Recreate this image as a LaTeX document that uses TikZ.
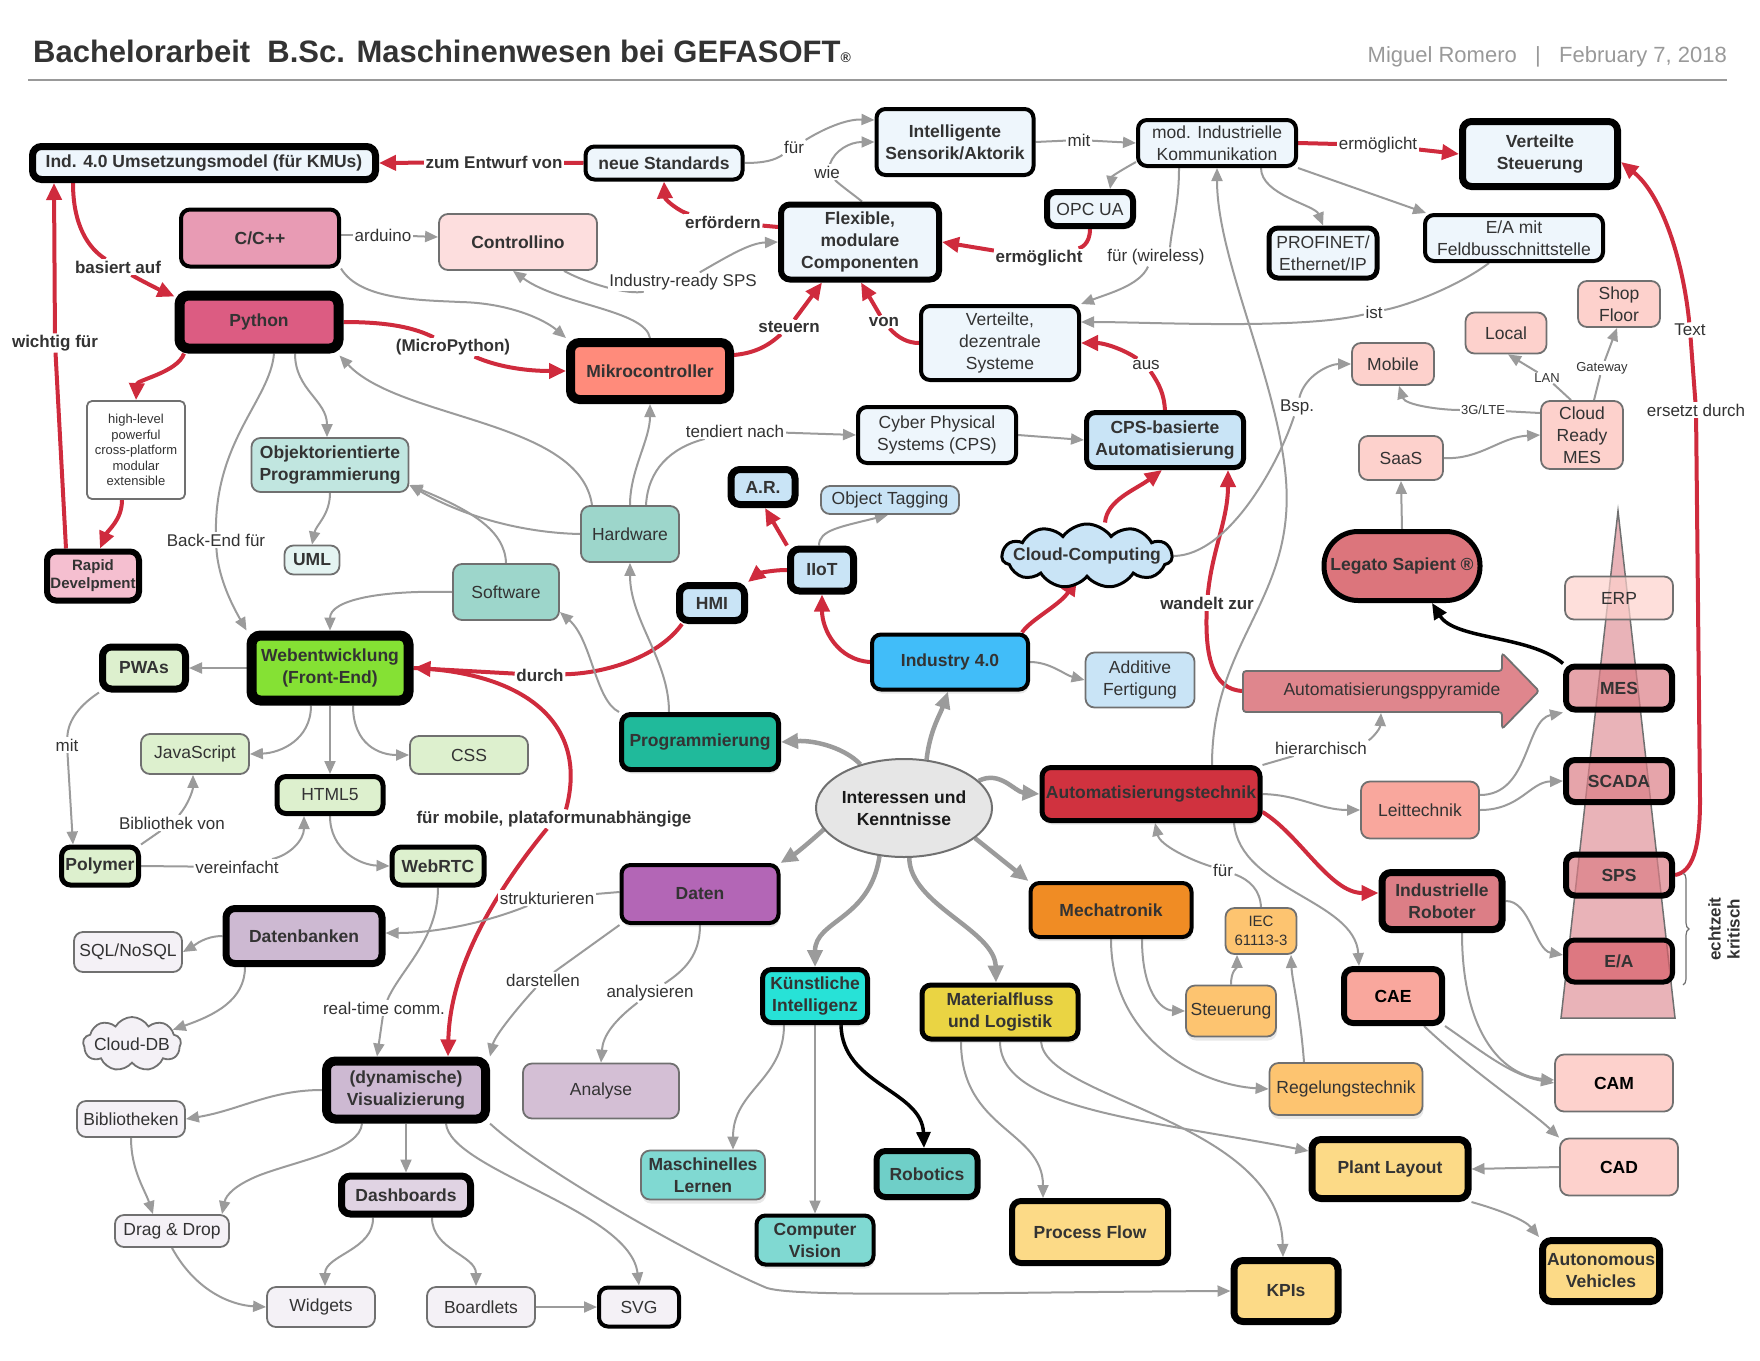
\documentclass[tikz,border=0pt]{standalone}
\usepackage{fontspec}
\setmainfont{Liberation Sans}
\usetikzlibrary{arrows.meta,shapes.symbols,shapes.geometric,shadows,decorations.pathreplacing,calc}
\pgfdeclarelayer{bg}
\pgfsetlayers{bg,main}
\definecolor{txt}{HTML}{333333}
\definecolor{authc}{HTML}{999999}
\definecolor{bordgray}{HTML}{707070}
\definecolor{edgegray}{HTML}{9B9B9B}
\definecolor{edgered}{HTML}{CF2B3D}
\definecolor{lbz}{HTML}{EEF6FC}
\definecolor{lbo}{HTML}{C9E4F6}
\definecolor{indc}{HTML}{41BDF9}
\definecolor{pkc}{HTML}{E89BB4}
\definecolor{pyc}{HTML}{DC5C82}
\definecolor{rapc}{HTML}{F5BFD0}
\definecolor{ctlc}{HTML}{FDDEDE}
\definecolor{mikc}{HTML}{FF8B7B}
\definecolor{oopc}{HTML}{C1E6E0}
\definecolor{umlc}{HTML}{E4F4F2}
\definecolor{swc}{HTML}{9DD6CB}
\definecolor{progc}{HTML}{20BA9B}
\definecolor{webc}{HTML}{85E134}
\definecolor{lgc}{HTML}{DDF0CE}
\definecolor{datc}{HTML}{B366B6}
\definecolor{dbc}{HTML}{CDB9D2}
\definecolor{anc}{HTML}{D4BFD5}
\definecolor{dashc}{HTML}{E0D3E3}
\definecolor{lpur}{HTML}{F4F1F6}
\definecolor{kic}{HTML}{27E2D7}
\definecolor{mlc}{HTML}{80D9D2}
\definecolor{robc}{HTML}{6FCFC8}
\definecolor{mfc}{HTML}{EAD443}
\definecolor{yelc}{HTML}{FCDA87}
\definecolor{mechc}{HTML}{F08C24}
\definecolor{orlc}{HTML}{FDC470}
\definecolor{atc}{HTML}{D0323F}
\definecolor{leitc}{HTML}{F9A79D}
\definecolor{lpink}{HTML}{FDD1CC}
\definecolor{legc}{HTML}{DC757C}
\definecolor{mesc}{HTML}{DC7E86}
\definecolor{eac}{HTML}{D8606A}
\definecolor{pyrc}{HTML}{E9B3B8}
\definecolor{pyarc}{HTML}{DF868D}
\definecolor{intc}{HTML}{E6E6E6}
\newcommand\myfn{\fontsize{17.5}{22}\selectfont}
\newcommand\myfb{\fontsize{17.5}{22}\selectfont\bfseries}
\newcommand\myfl{\fontsize{17}{20}\selectfont}
\newcommand\myfs{\fontsize{13}{15.5}\selectfont}
\tikzset{
  box/.style={rectangle, rounded corners=9pt, align=center, text=txt, inner sep=0pt, font=\myfn},
  bf/.style={font=\myfb},
  thin/.style={draw=bordgray, line width=1.8pt},
  bk/.style={draw=black, line width=#1},
  shd/.style={drop shadow={opacity=0.18, shadow xshift=1pt, shadow yshift=-4pt}},
  lbl/.style={fill=white, inner sep=1.5pt, text=txt, font=\myfl},
  lblb/.style={fill=white, inner sep=1.5pt, text=txt, font=\myfl\bfseries},
  lbls/.style={fill=white, inner sep=1pt, text=txt, font=\myfs},
  ga/.style={draw=edgegray, line width=2pt, -{Triangle[length=13pt,width=11pt]}},
  gl/.style={draw=edgegray, line width=2pt},
  ra/.style={draw=edgered, line width=4pt, -{Triangle[length=17pt,width=15pt]}},
  rl/.style={draw=edgered, line width=4pt},
  ba/.style={draw=black, line width=3.5pt, -{Triangle[length=16pt,width=14pt]}},
  ta/.style={draw=edgegray, line width=4.5pt, -{Triangle[length=17pt,width=15pt]}},
  pyrbox/.style={fill opacity=0.7, text opacity=1, draw opacity=1}
}
\begin{document}
\begin{tikzpicture}[x=1pt,y=-1pt]
\useasboundingbox (0,0) rectangle (1760,1360);
% header
\node[anchor=base west, inner sep=0pt, font=\fontsize{31}{37}\selectfont\bfseries, text=txt] (title) at (33,62) {Bachelorarbeit\ \ B.Sc. Maschinenwesen bei GEFASOFT{\fontsize{14}{14}\selectfont ®}};
\node[anchor=base east, inner sep=0pt, font=\fontsize{22}{26}\selectfont, text=authc] (author) at (1727,62) {Miguel Romero\ \ \ |\ \ \ February 7, 2018};
\draw[authc, line width=2pt] (28,80) -- (1727,80);

% nodes
\node[box,bf,bk=7pt,fill=lbz,minimum width=343pt,minimum height=33pt] (ind40) at (204,163) {Ind. 4.0 Umsetzungsmodel (für KMUs)};
\node[box,bf,bk=4pt,fill=pkc,minimum width=158pt,minimum height=57pt] (cpp) at (260,238) {C/C++};
\node[box,bf,thin,fill=ctlc,minimum width=158pt,minimum height=56pt] (controllino) at (518,242) {Controllino};
\node[box,bf,bk=10pt,fill=pyc,minimum width=159pt,minimum height=53pt] (python) at (259,322) {Python};
\node[box,thin,fill=white,rounded corners=5pt,font=\myfs,minimum width=98pt,minimum height=98pt] (hilevel) at (136,450) {high-level\\powerful\\cross-platform\\modular\\extensible};
\node[box,bk=6pt,fill=rapc,font=\fontsize{15}{18}\selectfont\bfseries,minimum width=92pt,minimum height=49pt] (rapid) at (93,576) {Rapid\\Develpment};
\node[box,bf,bk=9pt,fill=mikc,minimum width=159pt,minimum height=57pt] (mikro) at (650,371) {Mikrocontroller};
\node[box,bf,bk=4pt,fill=lbz,minimum width=157pt,minimum height=33pt] (neuestd) at (664,163) {neue Standards};
\node[box,bf,bk=4pt,fill=lbz,minimum width=157pt,minimum height=66pt] (intel) at (955,142) {Intelligente\\Sensorik/Aktorik};
\node[box,bk=4pt,fill=lbz,minimum width=158pt,minimum height=46pt] (mik) at (1217,143) {mod. Industrielle\\Kommunikation};
\node[box,bk=6pt,fill=lbz,minimum width=86pt,minimum height=34pt] (opcua) at (1090,209) {OPC UA};
\node[box,bf,bk=6pt,fill=lbz,minimum width=158pt,minimum height=75pt] (flex) at (860,242) {Flexible,\\modulare\\Componenten};
\node[box,bk=4pt,fill=lbz,minimum width=158pt,minimum height=74pt] (vds) at (1000,343) {Verteilte,\\dezentrale\\Systeme};
\node[box,bk=4pt,fill=lbz,minimum width=158pt,minimum height=56pt] (cps) at (937,435) {Cyber Physical\\Systems (CPS)};
\node[box,bf,bk=5pt,fill=lbo,minimum width=157pt,minimum height=55pt] (cpsaut) at (1165,440) {CPS-basierte\\Automatisierung};
\node[box,bf,bk=7pt,fill=lbz,minimum width=155pt,minimum height=65pt] (vst) at (1540,154) {Verteilte\\Steuerung};
\node[box,bk=5pt,fill=lbz,minimum width=108pt,minimum height=50pt] (profinet) at (1323,253) {PROFINET/\\Ethernet/IP};
\node[box,bk=4pt,fill=lbz,minimum width=178pt,minimum height=46pt] (eamit) at (1514,238) {E/A mit\\Feldbusschnittstelle};
\node[box,thin,fill=lpink,minimum width=82pt,minimum height=46pt] (shopfloor) at (1619,304) {Shop\\Floor};
\node[box,thin,fill=lpink,minimum width=81pt,minimum height=41pt] (local) at (1506,333) {Local};
\node[box,thin,fill=lpink,minimum width=82pt,minimum height=42pt] (mobile) at (1393,364) {Mobile};
\node[box,thin,fill=lpink,minimum width=82pt,minimum height=68pt] (crmes) at (1582,435) {Cloud\\Ready\\MES};
\node[box,thin,fill=lpink,minimum width=84pt,minimum height=44pt] (saas) at (1401,458) {SaaS};
\node[box,bf,bk=5pt,fill=legc,rounded corners=34pt,minimum width=156pt,minimum height=69pt] (legato) at (1402,566) {Legato Sapient ®};

% pyramid (background)
\begin{pgfonlayer}{bg}
\draw[draw=bordgray, line width=1.5pt, fill=pyrc] (1618,511) -- (1675,1018) -- (1561,1018) -- cycle;
\end{pgfonlayer}
\node[box,thin,pyrbox,fill=lpink,minimum width=108pt,minimum height=43pt] (erp) at (1619,598) {ERP};
\node[box,bf,bk=6pt,pyrbox,fill=mesc,minimum width=106pt,minimum height=43pt] (mes) at (1619,688) {MES};
\node[box,bf,bk=6pt,pyrbox,fill=mesc,minimum width=106pt,minimum height=42pt] (scada) at (1619,781) {SCADA};
\node[box,bf,bk=6pt,pyrbox,fill=mesc,minimum width=106pt,minimum height=41pt] (sps) at (1619,875) {SPS};
\node[box,bf,bk=5pt,pyrbox,fill=eac,minimum width=107pt,minimum height=42pt] (ea) at (1619,961) {E/A};
\draw[decorate, decoration={brace, amplitude=6pt}, draw=bordgray, line width=1.2pt] (1683,873) -- (1683,985);
\node[rotate=90, align=center, inner sep=0pt, font=\fontsize{17}{19}\selectfont\bfseries, text=txt] (echt) at (1724,929) {echtzeit\\kritisch};

\node[box,bf,thin,fill=oopc,minimum width=157pt,minimum height=54pt] (oop) at (330,465) {Objektorientierte\\Programmierung};
\node[box,bf,thin,fill=umlc,minimum width=55pt,minimum height=29pt] (uml) at (312,560) {UML};
\node[box,thin,fill=swc,minimum width=106pt,minimum height=56pt] (software) at (506,592) {Software};
\node[box,thin,fill=swc,minimum width=98pt,minimum height=56pt] (hardware) at (630,534) {Hardware};
\node[box,bf,bk=10pt,fill=webc,minimum width=157pt,minimum height=65pt] (web) at (330,668) {Webentwicklung\\(Front-End)};
\node[box,bf,bk=7pt,fill=lgc,minimum width=83pt,minimum height=42pt] (pwas) at (144,668) {PWAs};
\node[box,thin,fill=lgc,minimum width=108pt,minimum height=40pt] (js) at (195,754) {JavaScript};
\node[box,thin,fill=lgc,minimum width=118pt,minimum height=38pt] (css) at (469,755) {CSS};
\node[box,bk=5pt,fill=lgc,minimum width=106pt,minimum height=37pt] (html) at (330,795) {HTML5};
\node[box,bf,bk=5pt,fill=lgc,minimum width=77pt,minimum height=38pt] (polymer) at (100,866) {Polymer};
\node[box,bf,bk=5pt,fill=lgc,minimum width=92pt,minimum height=38pt] (webrtc) at (438,866) {WebRTC};

\node[box,bf,bk=7pt,fill=lbo,minimum width=64pt,minimum height=35pt] (ar) at (763,487) {A.R.};
\node[box,thin,fill=lbo,minimum width=138pt,minimum height=28pt] (objtag) at (890,500) {Object Tagging};
\node[box,bf,bk=7pt,fill=lbo,minimum width=63pt,minimum height=42pt] (iiot) at (822,570) {IIoT};
\node[box,bf,bk=7pt,fill=lbo,minimum width=65pt,minimum height=35pt] (hmi) at (712,603) {HMI};
\node[cloud, cloud puffs=11, cloud puff arc=110, aspect=2.6, draw=black, line width=3pt, fill=lbo, minimum width=170pt, minimum height=64pt, inner sep=0pt, label={[font=\myfb, text=txt, inner sep=0pt]center:Cloud-Computing}] (cloud) at (1087,556) {};
\node[box,bf,bk=4pt,fill=indc,shd,minimum width=156pt,minimum height=55pt] (ind) at (950,662) {Industry 4.0};
\node[box,thin,fill=lbo,minimum width=109pt,minimum height=55pt] (additive) at (1140,680) {Additive\\Fertigung};
\node[box,bf,bk=5pt,fill=progc,shd,minimum width=157pt,minimum height=55pt] (prog) at (700,742) {Programmierung};
\node[ellipse, draw=bordgray, line width=2pt, fill=intc, minimum width=159pt, minimum height=98pt, inner sep=0pt, align=center, font=\myfb, text=black!90] (inter) at (904,808) {Interessen und\\Kenntnisse};
\node[box,bf,bk=5pt,fill=atc,shd,minimum width=218pt,minimum height=53pt] (at) at (1151,794) {Automatisierungstechnik};
\node[box,bf,bk=4pt,fill=datc,shd,minimum width=157pt,minimum height=58pt] (daten) at (700,894) {Daten};
\node[box,bf,bk=4pt,fill=mechc,shd,minimum width=161pt,minimum height=54pt] (mech) at (1111,910) {Mechatronik};
\node[box,bf,bk=7pt,fill=mesc,minimum width=120pt,minimum height=57pt] (ir) at (1442,901) {Industrielle\\Roboter};
\node[box,thin,fill=leitc,minimum width=118pt,minimum height=57pt] (leit) at (1420,810) {Leittechnik};
\node[box,bf,bk=6pt,fill=leitc,text=black,minimum width=98pt,minimum height=54pt] (cae) at (1393,996) {CAE};
\node[box,thin,fill=orlc,font=\fontsize{15}{19}\selectfont,minimum width=71pt,minimum height=46pt] (iec) at (1261,931) {IEC\\61113-3};
\node[box,thin,fill=orlc,shd,minimum width=90pt,minimum height=51pt] (steuer) at (1231,1011) {Steuerung};
\node[box,thin,fill=orlc,shd,minimum width=153pt,minimum height=52pt] (regel) at (1346,1089) {Regelungstechnik};
\node[box,bf,thin,fill=lpink,text=black,minimum width=118pt,minimum height=57pt] (cam) at (1614,1083) {CAM};
\node[box,bf,thin,fill=lpink,text=black,minimum width=118pt,minimum height=57pt] (cad) at (1619,1167) {CAD};
\node[box,bf,bk=7pt,fill=yelc,minimum width=156pt,minimum height=59pt] (plant) at (1390,1169) {Plant Layout};
\node[box,bf,bk=7pt,fill=yelc,minimum width=117pt,minimum height=61pt] (auto) at (1601,1271) {Autonomous\\Vehicles};
\node[box,bf,bk=7pt,fill=yelc,minimum width=104pt,minimum height=61pt] (kpis) at (1286,1291) {KPIs};
\node[box,bf,bk=7pt,fill=dbc,minimum width=156pt,minimum height=55pt] (dbank) at (304,936) {Datenbanken};
\node[box,thin,fill=lpur,minimum width=108pt,minimum height=40pt] (sql) at (128,952) {SQL/NoSQL};
\node[cloud, cloud puffs=9, cloud puff arc=120, aspect=1.8, draw=bordgray, line width=1.8pt, fill=lpur, minimum width=98pt, minimum height=54pt, inner sep=0pt, label={[font=\myfn, text=txt, inner sep=0pt]center:Cloud-DB}] (clouddb) at (132,1044) {};
\node[box,bf,bk=9pt,fill=dbc,minimum width=159pt,minimum height=58pt] (visual) at (406,1090) {(dynamische)\\Visualizierung};
\node[box,thin,fill=lpur,minimum width=108pt,minimum height=36pt] (biblio) at (131,1119) {Bibliotheken};
\node[box,bf,bk=7pt,fill=dashc,minimum width=129pt,minimum height=38pt] (dash) at (406,1195) {Dashboards};
\node[box,thin,fill=lpur,minimum width=114pt,minimum height=32pt] (dragdrop) at (172,1231) {Drag \& Drop};
\node[box,thin,fill=lpur,minimum width=108pt,minimum height=40pt] (widgets) at (321,1307) {Widgets};
\node[box,thin,fill=lpur,minimum width=108pt,minimum height=40pt] (boardlets) at (481,1307) {Boardlets};
\node[box,bk=4pt,fill=lpur,minimum width=80pt,minimum height=39pt] (svg) at (639,1307) {SVG};
\node[box,thin,fill=anc,minimum width=156pt,minimum height=55pt] (analyse) at (601,1091) {Analyse};
\node[box,bf,bk=5pt,fill=kic,shd,minimum width=105pt,minimum height=53pt] (ki) at (815,996) {Künstliche\\Intelligenz};
\node[box,bf,bk=5pt,fill=mfc,shd,minimum width=156pt,minimum height=54pt] (matfl) at (1000,1012) {Materialfluss\\und Logistik};
\node[box,bf,thin,fill=mlc,shd,minimum width=124pt,minimum height=49pt] (ml) at (703,1175) {Maschinelles\\Lernen};
\node[box,bf,bk=4pt,fill=mlc,shd,minimum width=117pt,minimum height=49pt] (cv) at (815,1240) {Computer\\Vision};
\node[box,bf,bk=6pt,fill=robc,shd,minimum width=101pt,minimum height=46pt] (robotics) at (927,1174) {Robotics};
\node[box,bf,bk=6pt,fill=yelc,minimum width=156pt,minimum height=62pt] (pflow) at (1090,1232) {Process Flow};

% Automatisierungspyramide arrow
\draw[draw=bordgray, line width=1.8pt, fill=pyarc, rounded corners=3pt] (1243,671) -- (1502,671) -- (1502,653) -- (1539,691) -- (1502,729) -- (1502,712) -- (1243,712) -- cycle;
\node[font=\myfn, text=txt, inner sep=0pt] (pyrtext) at (1392,691) {Automatisierungsppyramide};
\coordinate (pyrL) at (1243,691);
\coordinate (pyrB) at (1381,713);

% labels
\node[lblb] (lzum) at (494,162) {zum Entwurf von};
\node[lblb] (lbas) at (118,267) {basiert auf};
\node[lblb] (lwich) at (55,343) {wichtig für};
\node[lblb] (lmicro) at (453,347) {(MicroPython)};
\node[lblb] (lerf) at (723,222) {erfördern};
\node[lblb] (lerm) at (1039,258) {ermöglicht};
\node[lblb] (lsteu) at (789,327) {steuern};
\node[lblb] (lvon) at (884,322) {von};
\node[lbl] (laus) at (1146,365) {aus};
\node[lbl] (lerm2) at (1378,145) {ermöglicht};
\node[lbl] (ltext) at (1690,330) {Text};
\node[lbl] (lersetzt) at (1696,410) {ersetzt durch};
\node[lblb] (lwand) at (1207,603) {wandelt zur};
\node[lblb] (ldurch) at (540,675) {durch};
\node[lblb] (lfm) at (554,819) {für mobile, plataformunabhängige};
\node[lbl] (lfur1) at (794,147) {für};
\node[lbl] (lwie) at (827,172) {wie};
\node[lbl] (lmit) at (1079,140) {mit};
\node[lbl] (lwire) at (1156,257) {für (wireless)};
\node[lbl] (list) at (1374,312) {ist};
\node[lbl] (lbsp) at (1297,407) {Bsp.};
\node[lbls] (l3g) at (1483,410) {3G/LTE};
\node[lbls] (llan) at (1547,378) {LAN};
\node[lbls] (lgate) at (1602,368) {Gateway};
\node[lbl] (lard) at (383,235) {arduino};
\node[lbl] (lind) at (683,282) {Industry-ready SPS};
\node[lbl] (ltend) at (735,431) {tendiert nach};
\node[lbl] (lback) at (216,540) {Back-End für};
\node[lbl] (lmit2) at (67,745) {mit};
\node[lbl] (lbib) at (172,823) {Bibliothek von};
\node[lbl] (lverein) at (237,867) {vereinfacht};
\node[lbl] (lreal) at (384,1008) {real-time comm.};
\node[lbl] (lstrukt) at (547,898) {strukturieren};
\node[lbl] (ldarst) at (543,980) {darstellen};
\node[lbl] (lanal) at (650,993) {analysieren};
\node[lbl] (lhier) at (1321,748) {hierarchisch};
\node[lbl] (lfur2) at (1223,870) {für};

\begin{pgfonlayer}{bg}
% red
\draw[rl] (neuestd.west) -- (lzum);
\draw[ra] (lzum) -- (ind40.east);
\draw[rl] ($(ind40.south)+(-131,0)$) .. controls (73,225) and (88,248) .. (lbas);
\draw[ra] (lbas) .. controls (140,280) and (160,290) .. ($(python.north west)+(0,6)$);
\draw[rl] ($(rapid.north)+(-27,0)$) -- (lwich);
\draw[ra] (lwich) -- ($(ind40.south)+(-150,0)$);
\draw[ra] ($(python.south)+(-75,0)$) .. controls (178,372) and (137,380) .. (hilevel.north);
\draw[ra] ($(hilevel.south)+(-14,0)$) .. controls (122,520) and (108,530) .. ($(rapid.north)+(7,0)$);
\draw[rl] (python.east) .. controls (390,322) and (415,328) .. (lmicro);
\draw[ra] (lmicro) .. controls (500,368) and (530,371) .. (mikro.west);
\draw[rl] ($(flex.west)+(0,-15)$) -- (lerf);
\draw[ra] (lerf) .. controls (680,212) and (665,200) .. (neuestd.south);
\draw[rl] (opcua.south) .. controls (1090,245) and (1080,248) .. (lerm);
\draw[ra] (lerm) -- (flex.east);
\draw[rl] ($(mikro.east)+(0,-16)$) .. controls (755,353) and (768,346) .. (lsteu);
\draw[ra] (lsteu) -- ($(flex.south)+(-38,0)$);
\draw[rl] (vds.west) .. controls (908,343) and (898,338) .. (lvon);
\draw[ra] (lvon) -- ($(flex.south)+(1,0)$);
\draw[rl] (cpsaut.north) .. controls (1164,395) and (1160,385) .. (laus);
\draw[ra] (laus) .. controls (1125,350) and (1105,343) .. (vds.east);
\draw[rl] (mik.east) -- (lerm2);
\draw[ra] (lerm2) -- (vst.west);
\draw[rl] (sps.east) .. controls (1692,872) and (1700,850) .. (1700,800) -- (lersetzt);
\draw[rl] (lersetzt) -- (ltext);
\draw[ra] (ltext) .. controls (1683,260) and (1662,195) .. ($(vst.east)+(0,8)$);
\draw[ra] ($(cloud.north)+(18,0)$) .. controls (1107,500) and (1135,490) .. ($(cpsaut.south)+(-3,0)$);
\draw[rl] (pyrL) .. controls (1212,690) and (1205,655) .. (lwand);
\draw[ra] (lwand) .. controls (1212,550) and (1228,520) .. ($(cpsaut.south)+(63,0)$);
\draw[ra] ($(ind.north)+(72,0)$) .. controls (1030,620) and (1060,605) .. ($(cloud.south)+(-10,0)$);
\draw[ra] (ind.west) .. controls (838,660) and (822,630) .. (iiot.south);
\draw[ra] (iiot.north west) -- ($(ar.south)+(2,0)$);
\draw[ra] (iiot.west) .. controls (770,570) and (758,574) .. (hmi.north east);
\draw[rl] ($(hmi.south)+(-30,0)$) .. controls (660,655) and (610,673) .. (ldurch);
\draw[ra] (ldurch) -- (web.east);
\draw[rl] (web.east) .. controls (520,672) and (590,720) .. ($(lfm.north)+(12,0)$);
\draw[ra] ($(lfm.south)+(-7,0)$) .. controls (505,880) and (450,960) .. ($(visual.north)+(42,0)$);
\draw[ra] ($(at.east)+(0,18)$) .. controls (1300,835) and (1330,893) .. ($(ir.west)+(0,-8)$);
% black
\draw[ba] ($(ki.south)+(26,0)$) .. controls (842,1085) and (922,1090) .. ($(robotics.north)+(-3,0)$);
\draw[ba] (mes.north west) .. controls (1530,635) and (1455,640) .. ($(legato.south)+(30,0)$);
% thick gray
\draw[ta] (inter.135) .. controls (845,748) and (815,740) .. (prog.east);
\draw[ta] (inter.65) .. controls (930,730) and (940,715) .. ($(ind.south)+(-2,0)$);
\draw[ta] (inter.20) .. controls (1000,770) and (1015,792) .. (at.west);
\draw[ta] (inter.195) .. controls (812,840) and (798,852) .. (daten.north east);
\draw[ta] (inter.-23) -- (mech.north west);
\draw[ta] (inter.243) .. controls (870,920) and (815,920) .. (ki.north);
\draw[ta] (inter.276) .. controls (910,905) and (995,930) .. ($(matfl.north)+(-4,0)$);
% gray
\draw[gl] (neuestd.east) .. controls (765,163) and (775,160) .. (lfur1);
\draw[ga] (lfur1) .. controls (830,125) and (850,119) .. ($(intel.west)+(0,-22)$);
\draw[gl] ($(flex.north)+(2,0)$) .. controls (850,192) and (840,185) .. (lwie);
\draw[ga] (lwie) .. controls (835,150) and (850,142) .. (intel.west);
\draw[gl] (intel.east) -- (lmit);
\draw[ga] (lmit) -- (mik.west);
\draw[ga] ($(mik.west)+(0,19)$) .. controls (1125,168) and (1112,176) .. ($(opcua.north)+(20,0)$);
\draw[gl] ($(mik.south)+(-38,0)$) .. controls (1179,205) and (1172,225) .. ($(lwire.north)+(14,0)$);
\draw[ga] ($(lwire.south)+(-8,0)$) .. controls (1140,285) and (1110,293) .. (vds.north east);
\draw[ga] ($(mik.south)+(44,0)$) .. controls (1261,195) and (1315,205) .. (profinet.north);
\draw[ga] (mik.south east) -- ($(eamit.north)+(-88,0)$);
\draw[gl] ($(eamit.south)+(-25,0)$) .. controls (1460,285) and (1410,305) .. (list);
\draw[ga] (list) .. controls (1300,330) and (1150,322) .. ($(vds.east)+(0,-21)$);
\draw[ga] ($(at.north)+(61,0)$) .. controls (1212,640) and (1295,600) .. (1286,480) .. controls (1278,380) and (1217,260) .. (mik.south);
\draw[gl] (cloud.east) .. controls (1230,555) and (1280,460) .. (lbsp);
\draw[ga] (lbsp) .. controls (1305,375) and (1330,364) .. (mobile.west);
\draw[gl] ($(crmes.west)+(0,-22)$) -- (l3g);
\draw[ga] (l3g) .. controls (1440,410) and (1405,405) .. ($(mobile.south)+(6,0)$);
\draw[gl] ($(crmes.north)+(-11,0)$) -- (llan);
\draw[ga] (llan) -- ($(local.south)+(2,0)$);
\draw[gl] ($(crmes.north)+(12,0)$) -- (lgate);
\draw[ga] (lgate) -- ($(shopfloor.south)+(-2,0)$);
\draw[ga] (saas.east) .. controls (1480,460) and (1500,437) .. (crmes.west);
\draw[ga] (legato.north) -- (saas.south);
\draw[gl] ($(cpp.east)+(0,-3)$) -- (lard);
\draw[ga] (lard) -- ($(controllino.west)+(0,-5)$);
\draw[ga] (cpp.south east) .. controls (360,300) and (420,300) .. (460,302) .. controls (510,303) and (545,320) .. (mikro.north west);
\draw[ga] (mikro.north) .. controls (645,310) and (560,305) .. ($(controllino.south)+(-5,0)$);
\draw[gl] ($(controllino.south)+(46,0)$) .. controls (590,285) and (630,295) .. (lind);
\draw[ga] (lind) .. controls (730,255) and (750,243) .. (flex.west);
\draw[ga] (hardware.north) .. controls (630,470) and (650,440) .. (mikro.south);
\draw[gl] ($(hardware.north)+(16,0)$) .. controls (648,470) and (670,448) .. (ltend);
\draw[ga] (ltend) -- (cps.west);
\draw[ga] ($(hardware.north)+(-38,0)$) .. controls (580,420) and (400,420) .. ($(python.south east)+(-4,2)$);
\draw[ga] (hardware.west) .. controls (530,533) and (470,520) .. ($(oop.east)+(0,20)$);
\draw[ga] (software.north) .. controls (505,530) and (470,510) .. ($(oop.east)+(0,20)$);
\draw[ga] (oop.south) .. controls (330,515) and (316,525) .. (uml.north);
\draw[ga] ($(python.south)+(36,0)$) .. controls (295,390) and (327,400) .. ($(oop.north)+(-3,0)$);
\draw[gl] ($(python.south)+(15,0)$) .. controls (270,400) and (215,440) .. (lback);
\draw[ga] (lback) .. controls (218,580) and (235,610) .. (web.north west);
\draw[ga] (software.west) .. controls (380,590) and (330,600) .. (web.north);
\draw[ga] (prog.north west) .. controls (595,700) and (592,640) .. ($(software.east)+(0,20)$);
\draw[ga] ($(prog.north)+(-31,0)$) .. controls (669,660) and (630,620) .. (hardware.south);
\draw[ga] (web.west) -- (pwas.east);
\draw[ga] ($(web.south)+(-19,0)$) .. controls (311,740) and (280,753) .. (js.east);
\draw[ga] (web.south) -- (html.north);
\draw[ga] ($(web.south)+(23,0)$) .. controls (353,745) and (380,755) .. (css.west);
\draw[gl] (pwas.south west) .. controls (80,705) and (68,720) .. (lmit2);
\draw[ga] (lmit2) -- ($(polymer.north)+(-27,0)$);
\draw[gl] (polymer.north east) -- (lbib);
\draw[ga] (lbib) .. controls (188,805) and (193,790) .. ($(js.south)+(-2,0)$);
\draw[gl] (polymer.east) -- (lverein);
\draw[ga] (lverein) .. controls (290,855) and (304,840) .. ($(html.south)+(-26,0)$);
\draw[ga] (html.south) .. controls (330,850) and (360,865) .. (webrtc.west);
\draw[gl] (webrtc.south) .. controls (438,940) and (400,970) .. (lreal);
\draw[ga] (lreal) -- ($(visual.north)+(-29,0)$);
\draw[gl] ($(daten.west)+(0,-2)$) -- (lstrukt);
\draw[ga] (lstrukt) .. controls (480,925) and (430,933) .. ($(dbank.east)+(0,-3)$);
\draw[gl] (daten.south west) -- (ldarst);
\draw[ga] (ldarst) .. controls (520,1005) and (495,1035) .. (visual.north east);
\draw[gl] (daten.south) .. controls (700,955) and (685,970) .. (lanal);
\draw[ga] (lanal) .. controls (615,1020) and (603,1035) .. (analyse.north);
\draw[ga] (dbank.west) .. controls (205,936) and (195,945) .. (sql.east);
\draw[ga] ($(dbank.south)+(-59,0)$) .. controls (245,1000) and (215,1015) .. (clouddb);
\draw[ga] (visual.west) .. controls (270,1090) and (240,1110) .. (biblio.east);
\draw[ga] (biblio.south) .. controls (131,1170) and (145,1190) .. ($(dragdrop.north)+(-19,0)$);
\draw[ga] ($(visual.south)+(-44,0)$) .. controls (360,1150) and (300,1160) .. (260,1175) .. controls (235,1185) and (226,1195) .. ($(dragdrop.north)+(50,0)$);
\draw[ga] (visual.south) -- (dash.north);
\draw[ga] ($(visual.south)+(40,0)$) .. controls (450,1170) and (630,1210) .. (svg.north);
\draw[ga] (visual.south east) .. controls (540,1170) and (700,1260) .. (767,1288) .. controls (800,1298) and (1000,1292) .. (kpis.west);
\draw[ga] ($(dash.south)+(-33,0)$) .. controls (374,1250) and (325,1255) .. ($(widgets.north)+(4,0)$);
\draw[ga] ($(dash.south)+(26,0)$) .. controls (432,1250) and (476,1255) .. ($(boardlets.north)+(-5,0)$);
\draw[ga] (dragdrop.south) .. controls (195,1290) and (230,1305) .. (widgets.west);
\draw[ga] (boardlets.east) -- (svg.west);
\draw[ga] (ind.east) .. controls (1050,662) and (1065,675) .. (additive.west);
\draw[ga] ($(iiot.north)+(-3,0)$) .. controls (819,530) and (840,527) .. ($(objtag.south)+(-2,0)$);
\draw[ga] (at.east) .. controls (1300,795) and (1320,810) .. (leit.west);
\draw[gl] (at.north east) -- (lhier);
\draw[ga] (lhier) .. controls (1370,740) and (1380,730) .. (pyrB);
\draw[ga] ($(leit.east)+(0,-15)$) .. controls (1530,795) and (1525,720) .. (mes.south west);
\draw[ga] (leit.east) .. controls (1520,810) and (1530,782) .. (scada.west);
\draw[ga] ($(at.south)+(83,0)$) .. controls (1240,890) and (1355,900) .. ($(cae.north)+(-34,0)$);
\draw[gl] (iec.north) .. controls (1260,890) and (1250,880) .. (lfur2);
\draw[ga] (lfur2) .. controls (1190,860) and (1160,845) .. ($(at.south)+(4,0)$);
\draw[ga] (steuer.north) .. controls (1231,970) and (1237,968) .. ($(iec.south)+(-24,0)$);
\draw[ga] ($(regel.north)+(-42,0)$) .. controls (1300,1010) and (1292,980) .. ($(iec.south)+(30,0)$);
\draw[ga] ($(mech.south)+(31,0)$) .. controls (1142,990) and (1160,1010) .. (steuer.west);
\draw[ga] (mech.south) .. controls (1111,1040) and (1200,1085) .. (regel.west);
\draw[ga] (ir.east) .. controls (1530,900) and (1535,950) .. ($(ea.west)+(0,-6)$);
\draw[ga] ($(ir.south)+(20,0)$) .. controls (1462,1030) and (1500,1075) .. ($(cam.west)+(0,-3)$);
\draw[ga] (cae.south east) .. controls (1480,1050) and (1510,1075) .. (cam.west);
\draw[ga] ($(cae.south)+(31,0)$) .. controls (1470,1070) and (1530,1110) .. (cad.north west);
\draw[ga] (cad.west) -- (plant.east);
\draw[ga] (plant.south east) .. controls (1500,1210) and (1525,1220) .. (auto.north west);
\draw[ga] ($(matfl.south)+(-39,0)$) .. controls (961,1130) and (1043,1130) .. ($(pflow.north)+(-47,0)$);
\draw[ga] (matfl.south) .. controls (1000,1110) and (1150,1120) .. ($(plant.west)+(0,-18)$);
\draw[ga] ($(matfl.south)+(41,0)$) .. controls (1045,1100) and (1280,1120) .. ($(kpis.north)+(-3,0)$);
\draw[ga] ($(ki.south)+(-31,0)$) .. controls (784,1080) and (733,1090) .. ($(ml.north)+(30,0)$);
\draw[ga] (ki.south) -- (cv.north);
\draw[ga] (cps.east) -- (cpsaut.west);
\end{pgfonlayer}
\end{tikzpicture}
\end{document}
